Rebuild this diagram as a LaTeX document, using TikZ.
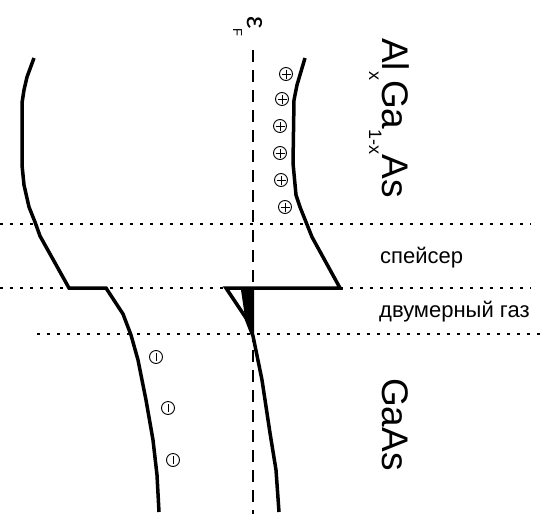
\documentclass[tikz,border=0pt]{standalone}
\usepackage{fontspec}
\setmainfont{Liberation Sans}
\usetikzlibrary{positioning}

% lowered subscript for the rotated labels
\newcommand{\lowsub}[3]{\raisebox{-#2}{\fontsize{#3}{#3}\selectfont #1}}

\begin{document}
\begin{tikzpicture}[x=1pt, y=-1pt,
    bandline/.style={line width=3.5pt},
    interface/.style={line width=1.4pt, dash pattern=on 2.5pt off 7.5pt},
    fermi/.style={line width=2.2pt, dash pattern=on 12pt off 8pt},
    layertext/.style={inner sep=0pt, anchor=base west, font=\fontsize{22}{24}\selectfont},
    sidetext/.style={inner sep=0pt, anchor=base west, rotate=-90},
    donor/.style={circle, draw, line width=0.9pt, minimum size=13pt, inner sep=0pt,
        path picture={\draw[line width=0.8pt]
            ([xshift=2pt]path picture bounding box.west) -- ([xshift=-2pt]path picture bounding box.east)
            ([yshift=-2pt]path picture bounding box.north) -- ([yshift=2pt]path picture bounding box.south);}},
    acceptor/.style={circle, draw, line width=0.9pt, minimum size=13pt, inner sep=0pt,
        path picture={\draw[line width=0.8pt]
            ([yshift=-2.5pt]path picture bounding box.north) -- ([yshift=2.5pt]path picture bounding box.south);}}
]
\useasboundingbox (0,0) rectangle (548,514);

% Layer borders
\draw[interface] (0,224) -- (531,224);
\draw[interface] (0,288) -- (531,288);
\draw[interface] (37,334) -- (546,334);

% Fermi level
\draw[fermi] (253,50) -- (253,514);
\fill (241,290) -- (254,290) -- (254,336) -- (251,332) -- (245,317) -- cycle;

% Bands
\draw[bandline] (34,58) -- (27,77) -- (24,90) -- (22,103) -- (22,165) -- (24,185) -- (29,207)
    -- (35,222) -- (40,236) -- (69,288) -- (106,288) -- (123,314) -- (131,335) -- (138,360)
    -- (146,400) -- (153,440) -- (157,475) -- (159,512);
\draw[bandline] (305,58) -- (297,85) -- (294,100) -- (293,163) -- (296,195) -- (300,207)
    -- (312,237) -- (340,288) -- (226,288) -- (246,318) -- (253,336) -- (262,380)
    -- (270,433) -- (276,470) -- (279,512);

% Ionized impurities
\foreach \x/\y [count=\i] in {286/74, 282/99, 280/126, 280/153, 281/180, 285/207}
    \node[donor] (d\i) at (\x,\y) {};
\foreach \x/\y [count=\i] in {156/357, 168/408, 173/460}
    \node[acceptor] (a\i) at (\x,\y) {};

% Labels
\node[sidetext, font=\fontsize{28}{30}\selectfont] (ef) at (247,16) {ε\lowsub{F}{14pt}{13}};
\node[sidetext, font=\fontsize{37}{40}\selectfont] (alloy) at (382,38)
    {Al\lowsub{x}{13pt}{18}Ga\lowsub{1-x}{13pt}{18}As};
\node[sidetext, font=\fontsize{37}{40}\selectfont] (gaas) at (382,378) {GaAs};
\node[layertext] (spacer) at (380,263) {спейсер};
\node[layertext] (gas) at (379,317) {двумерный газ};

\end{tikzpicture}
\end{document}
